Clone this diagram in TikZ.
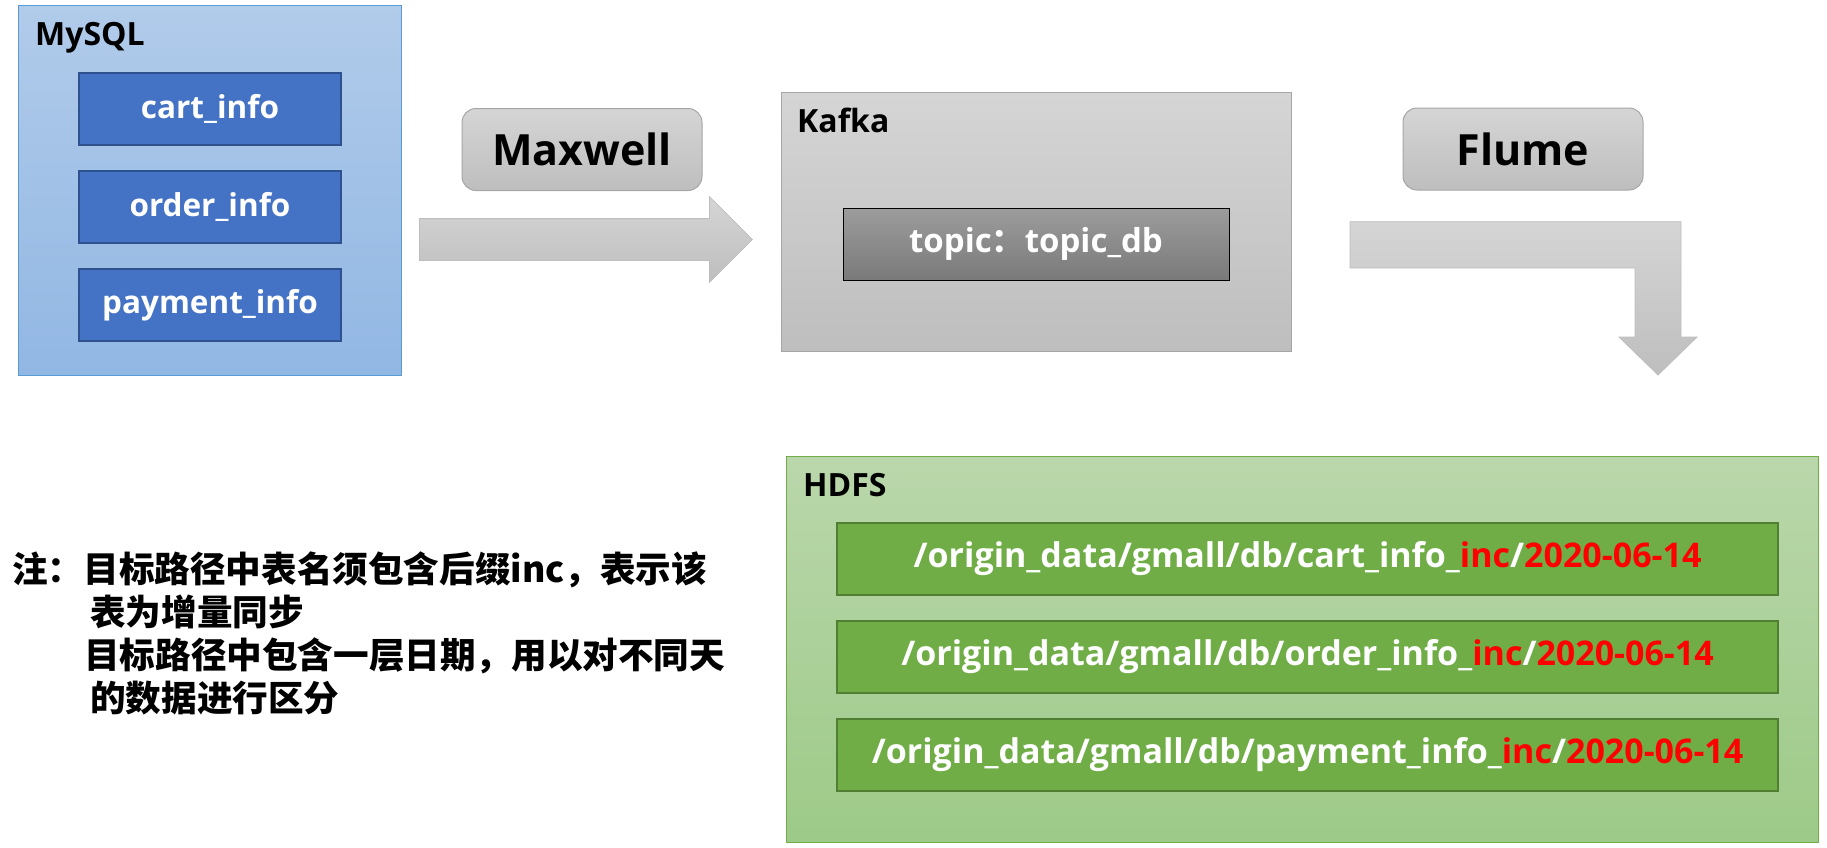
\documentclass[tikz,border=0pt]{standalone}
\usepackage{fontspec}
\setmainfont{Open Sans}
\newfontfamily\cjk{Noto Sans CJK SC}
\usetikzlibrary{shapes, arrows.meta, positioning}

\definecolor{mysqltop}{RGB}{177,203,234}
\definecolor{mysqlbottom}{RGB}{145,183,227}
\definecolor{mysqledge}{RGB}{91,155,213}
\definecolor{tablefill}{RGB}{68,114,196}
\definecolor{tableedge}{RGB}{47,82,143}
\definecolor{greytop}{RGB}{213,213,213}
\definecolor{greybottom}{RGB}{190,190,190}
\definecolor{greyedge}{RGB}{166,166,166}
\definecolor{topictop}{RGB}{156,156,156}
\definecolor{topicbottom}{RGB}{122,122,122}
\definecolor{hdfstop}{RGB}{186,215,171}
\definecolor{hdfsbottom}{RGB}{157,202,136}
\definecolor{hdfsedge}{RGB}{112,173,71}
\definecolor{pathfill}{RGB}{112,173,71}
\definecolor{pathedge}{RGB}{80,126,50}
\definecolor{incred}{RGB}{255,0,0}

\begin{document}
\begin{tikzpicture}[x=1pt, y=-1pt,
    group/.style={rectangle, anchor=north west, line width=1pt, inner sep=0pt},
    grouplabel/.style={anchor=base west, inner sep=0pt, font=\bfseries\fontsize{32}{36}\selectfont},
    tablebox/.style={rectangle, draw=tableedge, fill=tablefill, line width=2pt, minimum width=262pt, minimum height=72pt, text=white, font=\bfseries\fontsize{31.5}{36}\selectfont},
    tool/.style={rectangle, rounded corners=14pt, draw=greyedge, top color=greytop, bottom color=greybottom, line width=1pt, minimum width=240pt, minimum height=82pt, font=\bfseries\fontsize{43}{50}\selectfont},
    pathbox/.style={rectangle, draw=pathedge, fill=pathfill, line width=2pt, minimum width=941pt, minimum height=72pt, text=white, font=\bfseries\fontsize{34}{38}\selectfont},
    flow/.style={draw=greybottom, top color=greytop, bottom color=greybottom, line width=0.8pt}
]
    \useasboundingbox (0,0) rectangle (1827,847);

    % MySQL
    \node [group, draw=mysqledge, top color=mysqltop, bottom color=mysqlbottom, minimum width=383pt, minimum height=370pt] (mysql) at (18,5) {};
    \node [grouplabel] (mysqllabel) at (35,45) {MySQL};
    \node [tablebox, anchor=north] (cart) at (210,72) {cart\_info};
    \node [tablebox, below=24pt of cart] (order) {order\_info};
    \node [tablebox, below=24pt of order] (payment) {payment\_info};

    % Kafka
    \node [group, draw=greyedge, top color=greytop, bottom color=greybottom, minimum width=510pt, minimum height=259pt] (kafka) at (781,92) {};
    \node [grouplabel] (kafkalabel) at (797,132) {Kafka};
    \node [rectangle, draw=black, line width=1pt, top color=topictop, bottom color=topicbottom, minimum width=386pt, minimum height=72pt, text=white, font=\bfseries\fontsize{33}{36}\selectfont] (topic) at (1036,244) {topic{\cjk\bfseries ：}topic\_db};

    % Maxwell
    \node [tool] (maxwell) at (582,149.5) {Maxwell};
    \node [single arrow, flow, anchor=tail, inner sep=20.5pt, single arrow head extend=22pt, minimum height=333pt] (sync) at (419,239.5) {};

    % Flume
    \node [tool] (flume) at (1523,149) {Flume};
    \path [flow] (1350,221.7) -- (1681,221.7) -- (1681,337) -- (1697,337) -- (1658,375)
        -- (1619,337) -- (1635,337) -- (1635,268) -- (1350,268) -- cycle;

    % HDFS
    \node [group, draw=hdfsedge, top color=hdfstop, bottom color=hdfsbottom, minimum width=1032pt, minimum height=386pt] (hdfs) at (786,456) {};
    \node [grouplabel] (hdfslabel) at (803,496) {HDFS};
    \node [pathbox] (cartpath) at (1307.5,559) {/origin\_data/gmall/db/cart\_info\_\textcolor{incred}{inc}/\textcolor{incred}{2020-06-14}};
    \node [pathbox, below=24pt of cartpath] (orderpath) {/origin\_data/gmall/db/order\_info\_\textcolor{incred}{inc}/\textcolor{incred}{2020-06-14}};
    \node [pathbox, below=24pt of orderpath] (paymentpath) {/origin\_data/gmall/db/payment\_info\_\textcolor{incred}{inc}/\textcolor{incred}{2020-06-14}};

    % Note
    \node [anchor=north west, inner sep=0pt, align=left, font=\cjk\bfseries\fontsize{35.6}{43}\selectfont] (note) at (12,552)
        {注：目标路径中表名须包含后缀inc，表示该\\
         \hspace*{78pt}表为增量同步\\
         \hspace*{72pt}目标路径中包含一层日期，用以对不同天\\
         \hspace*{78pt}的数据进行区分};
\end{tikzpicture}
\end{document}
